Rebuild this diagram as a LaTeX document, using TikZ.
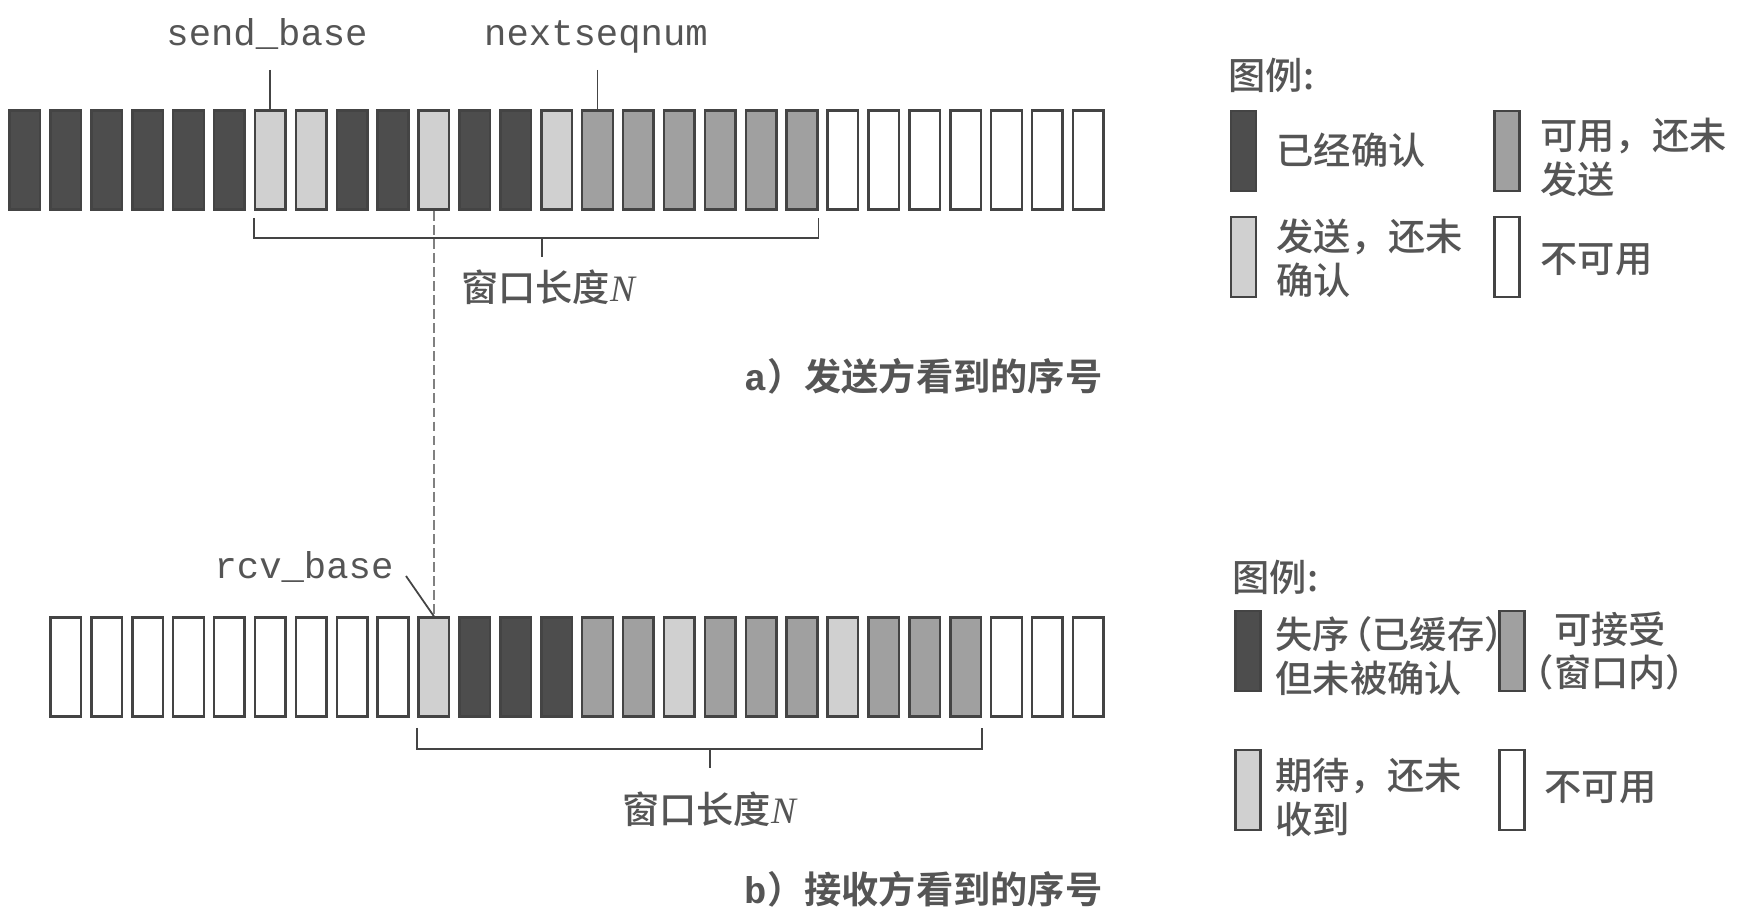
\documentclass[tikz,border=0pt]{standalone}
\usepackage{fontspec}
\setmainfont{Liberation Serif}
\setmonofont{Liberation Mono}
\newfontfamily\cjk{Noto Sans CJK SC Medium}[BoldFont={Noto Sans CJK SC Bold}]

\definecolor{ink}{HTML}{555555}
\definecolor{edge}{HTML}{444444}
\definecolor{darkfill}{HTML}{4D4D4D}
\definecolor{midfill}{HTML}{A0A0A0}
\definecolor{lightfill}{HTML}{D0D0D0}

\tikzset{
    seqbox/.style={draw=edge, line width=0.7pt, minimum width=3.06mm, minimum height=9.9mm, inner sep=0pt},
    darkbox/.style={seqbox, fill=darkfill},
    midbox/.style={seqbox, fill=midfill},
    lightbox/.style={seqbox, fill=lightfill},
    openbox/.style={seqbox, fill=white},
    keybox/.style={draw=edge, line width=0.7pt, minimum width=2.5mm, minimum height=8mm, inner sep=0pt},
    cjktext/.style={text=ink, font=\cjk\fontsize{10.6}{12.5}\selectfont, inner sep=0pt},
    monotext/.style={text=ink, font=\ttfamily\fontsize{10.6}{12.5}\selectfont, inner sep=0pt, anchor=base},
    thinline/.style={draw=edge, line width=0.5pt},
    dashline/.style={draw=gray, line width=0.45pt, dash pattern=on 2.8pt off 1.2pt},
}

\begin{document}
\begin{tikzpicture}[x=0.1mm, y=-0.1mm]
        \fill[white] (0, 0) rectangle (1742, 924);
        \useasboundingbox (0, 0) rectangle (1742, 924);

        % sender side
        \node[darkbox] (s0) at (24.9, 160) {};
        \node[darkbox] (s1) at (65.8, 160) {};
        \node[darkbox] (s2) at (106.7, 160) {};
        \node[darkbox] (s3) at (147.6, 160) {};
        \node[darkbox] (s4) at (188.5, 160) {};
        \node[darkbox] (s5) at (229.4, 160) {};
        \node[lightbox] (s6) at (270.3, 160) {};
        \node[lightbox] (s7) at (311.2, 160) {};
        \node[darkbox] (s8) at (352.1, 160) {};
        \node[darkbox] (s9) at (393.0, 160) {};
        \node[lightbox] (s10) at (433.9, 160) {};
        \node[darkbox] (s11) at (474.8, 160) {};
        \node[darkbox] (s12) at (515.7, 160) {};
        \node[lightbox] (s13) at (556.6, 160) {};
        \node[midbox] (s14) at (597.5, 160) {};
        \node[midbox] (s15) at (638.4, 160) {};
        \node[midbox] (s16) at (679.3, 160) {};
        \node[midbox] (s17) at (720.2, 160) {};
        \node[midbox] (s18) at (761.1, 160) {};
        \node[midbox] (s19) at (802.0, 160) {};
        \node[openbox] (s20) at (842.9, 160) {};
        \node[openbox] (s21) at (883.8, 160) {};
        \node[openbox] (s22) at (924.7, 160) {};
        \node[openbox] (s23) at (965.6, 160) {};
        \node[openbox] (s24) at (1006.5, 160) {};
        \node[openbox] (s25) at (1047.4, 160) {};
        \node[openbox] (s26) at (1088.3, 160) {};

        \node[monotext] (sendbase) at (267, 46) {send\_base};
        \node[monotext] (nextseq) at (596, 46) {nextseqnum};
        \coordinate (sendfoot) at (270.3, 70);
        \coordinate (nextfoot) at (597.5, 70);
        \draw[thinline] (sendfoot) -- (s6.north);
        \draw[thinline] (nextfoot) -- (s14.north);

        \draw[thinline] (s6.west |- 0,218) |- (s19.east |- 0,238) -- (s19.east |- 0,218);
        \coordinate (swin) at (542, 238);
        \draw[thinline] (swin) -- ++(0, 19);
        \node[cjktext] (swinlabel) at (548, 287) {窗口长度{\rmfamily\itshape N}};

        % receiver side
        \node[openbox] (r0) at (65.8, 667) {};
        \node[openbox] (r1) at (106.7, 667) {};
        \node[openbox] (r2) at (147.6, 667) {};
        \node[openbox] (r3) at (188.5, 667) {};
        \node[openbox] (r4) at (229.4, 667) {};
        \node[openbox] (r5) at (270.3, 667) {};
        \node[openbox] (r6) at (311.2, 667) {};
        \node[openbox] (r7) at (352.1, 667) {};
        \node[openbox] (r8) at (393.0, 667) {};
        \node[lightbox] (r9) at (433.9, 667) {};
        \node[darkbox] (r10) at (474.8, 667) {};
        \node[darkbox] (r11) at (515.7, 667) {};
        \node[darkbox] (r12) at (556.6, 667) {};
        \node[midbox] (r13) at (597.5, 667) {};
        \node[midbox] (r14) at (638.4, 667) {};
        \node[lightbox] (r15) at (679.3, 667) {};
        \node[midbox] (r16) at (720.2, 667) {};
        \node[midbox] (r17) at (761.1, 667) {};
        \node[midbox] (r18) at (802.0, 667) {};
        \node[lightbox] (r19) at (842.9, 667) {};
        \node[midbox] (r20) at (883.8, 667) {};
        \node[midbox] (r21) at (924.7, 667) {};
        \node[midbox] (r22) at (965.6, 667) {};
        \node[openbox] (r23) at (1006.5, 667) {};
        \node[openbox] (r24) at (1047.4, 667) {};
        \node[openbox] (r25) at (1088.3, 667) {};

        \node[monotext] (rcvbase) at (304, 579) {rcv\_base};
        \coordinate (rcvfoot) at (406, 576);
        \draw[thinline] (rcvfoot) -- (r9.north);
        \draw[dashline] (s10.south) -- (r9.north);

        \draw[thinline] (r9.west |- 0,728) |- (r22.east |- 0,749) -- (r22.east |- 0,728);
        \coordinate (rwin) at (710, 749);
        \draw[thinline] (rwin) -- ++(0, 19);
        \node[cjktext] (rwinlabel) at (709, 809) {窗口长度{\rmfamily\itshape N}};

        % legends
        \node[cjktext, anchor=west] (keya) at (1228, 75) {图例:};
        \node[keybox, fill=darkfill] (ka1) at (1243.5, 151) {};
        \node[cjktext, anchor=west] (ta1) at (1276, 150) {已经确认};
        \node[keybox, fill=midfill] (ka2) at (1507, 151) {};
        \node[cjktext, anchor=west, align=left] (ta2) at (1540, 157) {可用，还未\\发送};
        \node[keybox, fill=lightfill] (ka3) at (1243.5, 257) {};
        \node[cjktext, anchor=west, align=left] (ta3) at (1276, 258) {发送，还未\\确认};
        \node[keybox, fill=white] (ka4) at (1507, 257) {};
        \node[cjktext, anchor=west] (ta4) at (1540, 260) {不可用};

        \node[cjktext, anchor=west] (keyb) at (1232, 577) {图例:};
        \node[keybox, fill=darkfill] (kb1) at (1248, 651) {};
        \node[cjktext, anchor=west, align=left] (tb1) at (1275, 656) {失序\kern-.4em（已缓存）\\但未被确认};
        \node[keybox, fill=midfill] (kb2) at (1512, 651) {};
        \node[cjktext, align=center] (tb2) at (1610, 651) {可接受\\（窗口内）};
        \node[keybox, fill=lightfill] (kb3) at (1248, 790) {};
        \node[cjktext, anchor=west, align=left] (tb3) at (1275, 797) {期待，还未\\收到};
        \node[keybox, fill=white] (kb4) at (1512, 790) {};
        \node[cjktext, anchor=west] (tb4) at (1544, 788) {不可用};

        % captions
        \node[cjktext, anchor=east] (capa) at (1103, 376) {\bfseries{\ttfamily a}）发送方看到的序号};
        \node[cjktext, anchor=east] (capb) at (1103, 889) {\bfseries{\ttfamily b}）接收方看到的序号};
    \end{tikzpicture}
\end{document}
